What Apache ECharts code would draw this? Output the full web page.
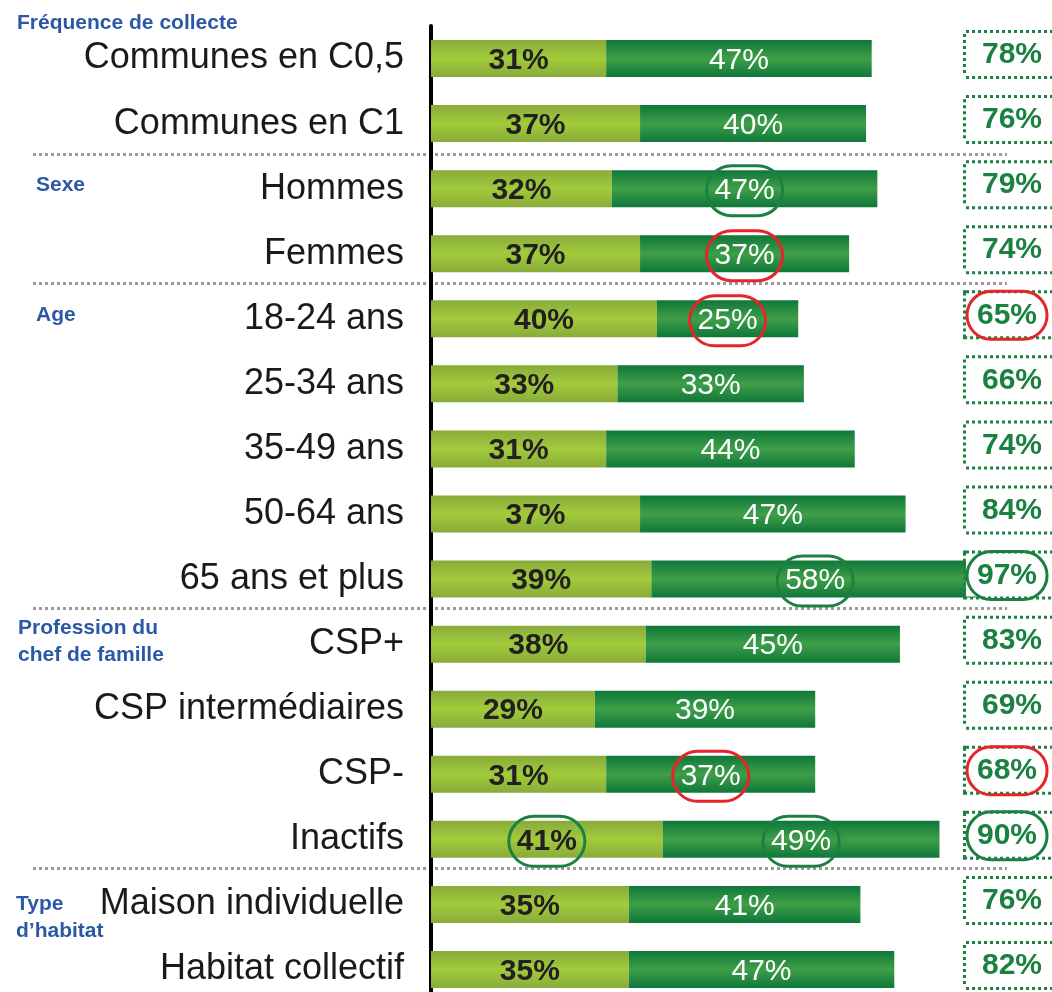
<!DOCTYPE html>
<html>
<head>
<meta charset="utf-8">
<script src="https://cdn.jsdelivr.net/npm/echarts@6/dist/echarts.min.js"></script>
<style>
  html, body { margin: 0; padding: 0; background: #fff; }
  #chart { width: 1052px; height: 992px; }
</style>
</head>
<body>
<div id="chart"></div>
<script>
// Data
const categories = [
  'Communes en C0,5', 'Communes en C1', 'Hommes', 'Femmes',
  '18-24 ans', '25-34 ans', '35-49 ans', '50-64 ans', '65 ans et plus',
  'CSP+', 'CSP intermédiaires', 'CSP-', 'Inactifs',
  'Maison individuelle', 'Habitat collectif'
];
const lightValues = [31, 37, 32, 37, 40, 33, 31, 37, 39, 38, 29, 31, 41, 35, 35];
const darkValues = [47, 40, 47, 37, 25, 33, 44, 47, 58, 45, 39, 37, 49, 41, 47];
const totals = [78, 76, 79, 74, 65, 66, 74, 84, 97, 83, 69, 68, 90, 76, 82];

// circled values: g = green ring, r = red ring
const lightRings = { 12: 'g' };
const darkRings = { 2: 'g', 3: 'r', 4: 'r', 8: 'g', 11: 'r', 12: 'g' };
const totalRings = { 4: 'r', 8: 'g', 11: 'r', 12: 'g' };

// first category of each new group (dotted separator above it)
const groupStarts = [2, 4, 9, 13];

const SANS = "'Liberation Sans', Arial, sans-serif";
const BLUE = '#2b58a6';
const GREEN = '#1a8141';
const RED = '#e4262a';

const chart = echarts.init(document.getElementById('chart'));

const vGrad = (edge, mid) => new echarts.graphic.LinearGradient(0, 0, 0, 1, [
  { offset: 0, color: edge },
  { offset: 0.5, color: mid },
  { offset: 1, color: edge }
]);

const ring = (color, extra) => Object.assign({
  borderColor: color,
  borderWidth: 3,
  borderRadius: 28,
  lineHeight: 30,
  padding: [10, 8]
}, extra);

const lightText = { fontFamily: SANS, fontWeight: 'bold', fontSize: 30, color: '#231f20' };
const darkText = { fontFamily: SANS, fontSize: 30, color: '#fff' };
const totalText = { fontFamily: SANS, fontWeight: 'bold', fontSize: 30, color: GREEN };

const ringFormatter = (rings) => (p) => {
  const k = rings[p.dataIndex] || 'n';
  return '{' + k + '|' + p.value + '%}';
};

const titleStyle = { fontFamily: SANS, fontWeight: 'bold', fontSize: 21, color: BLUE, lineHeight: 27 };

const option = {
  animation: false,
  title: [
    { text: 'Fréquence de collecte', left: 17, top: 10, padding: 0, textStyle: titleStyle },
    { text: 'Sexe', left: 36, top: 172, padding: 0, textStyle: titleStyle },
    { text: 'Age', left: 36, top: 302, padding: 0, textStyle: titleStyle },
    { text: 'Profession du\nchef de famille', left: 18, top: 615, padding: 0, textStyle: titleStyle },
    { text: 'Type\nd\u2019habitat', left: 16, top: 891, padding: 0, textStyle: titleStyle }
  ],
  grid: [
    // bars
    { left: 431, top: 26, width: 565, height: 976, outerBoundsMode: 'none' },
    // dotted group separators
    { left: 33, top: 24, width: 974, height: 974, outerBoundsMode: 'none' },
    // total boxes (sit a little higher than the bars)
    { left: 431, top: 22, width: 565, height: 976, outerBoundsMode: 'none' }
  ],
  xAxis: [
    { gridIndex: 0, type: 'value', min: 0, max: 100, show: false },
    { gridIndex: 1, type: 'value', min: 0, max: 100, show: false },
    { gridIndex: 2, type: 'value', min: 0, max: 100, show: false }
  ],
  yAxis: [
    {
      gridIndex: 0,
      type: 'category',
      data: categories,
      inverse: true,
      axisLine: { lineStyle: { color: '#000', width: 4 } },
      axisTick: { show: false },
      axisLabel: { margin: 27, padding: [4, 0, 0, 0], fontFamily: SANS, fontSize: 36, color: '#1a1a1a' }
    },
    {
      gridIndex: 1,
      type: 'category',
      data: categories,
      inverse: true,
      axisLine: { show: false },
      axisTick: { show: false },
      axisLabel: { show: false },
      splitLine: {
        show: true,
        interval: (index) => groupStarts.includes(index),
        lineStyle: { color: '#9a9a9a', width: 3, type: [3, 3] }
      }
    },
    {
      gridIndex: 2,
      type: 'category',
      data: totals,
      inverse: true,
      position: 'right',
      zlevel: 1,
      z: 10,
      axisLine: { show: false },
      axisTick: { show: false },
      axisLabel: {
        margin: -30,
        formatter: (v, i) => '{' + (totalRings[i] || 'n') + '|' + v + '%}',
        backgroundColor: '#fff',
        borderColor: GREEN,
        borderWidth: 3,
        borderType: [3, 3],
        padding: [7, 30, 6, 1],
        rich: {
          n: Object.assign({ padding: [0, 15], lineHeight: 30 }, totalText),
          g: Object.assign(ring(GREEN, { padding: [9, 10, 9, 10] }), totalText),
          r: Object.assign(ring(RED, { padding: [9, 10, 9, 10] }), totalText)
        }
      }
    }
  ],
  series: [
    {
      name: 'Base',
      type: 'bar',
      stack: 'total',
      barWidth: 37,
      data: lightValues,
      itemStyle: { color: vGrad('#88ab3a', '#a2cb3b') },
      label: {
        show: true,
        position: 'inside',
        offset: [0, 2],
        formatter: ringFormatter(lightRings),
        rich: {
          n: lightText,
          g: Object.assign(ring(GREEN), lightText),
          r: Object.assign(ring(RED), lightText)
        }
      }
    },
    {
      name: 'Complément',
      type: 'bar',
      stack: 'total',
      barWidth: 37,
      data: darkValues,
      itemStyle: { color: vGrad('#0e773a', '#3f9f48') },
      label: {
        show: true,
        position: 'inside',
        offset: [0, 2],
        formatter: ringFormatter(darkRings),
        rich: {
          n: darkText,
          g: Object.assign(ring(GREEN), darkText),
          r: Object.assign(ring(RED), darkText)
        }
      }
    }
  ]
};

chart.setOption(option);
</script>
</body>
</html>
